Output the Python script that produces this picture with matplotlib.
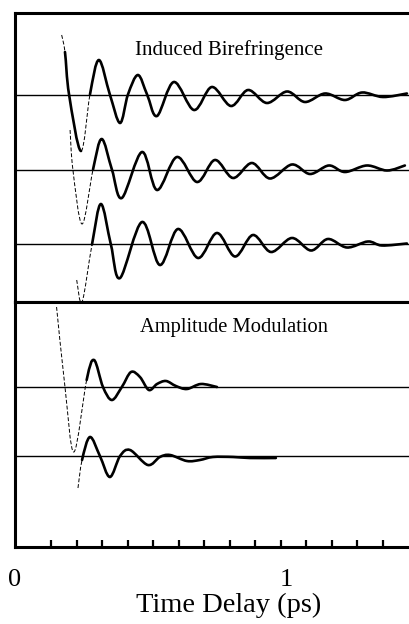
import numpy as np
import matplotlib
matplotlib.use("Agg")
import matplotlib.pyplot as plt
from matplotlib.path import Path
from matplotlib.patches import PathPatch

plt.rcParams["font.family"] = ["Liberation Serif", "DejaVu Serif"]

# -------------------------
# Data (time in ps, signal in a.u.)
# -------------------------

# Induced birefringence, three traces (top to bottom)
t_bir1 = [0.140, 0.153, 0.169, 0.216, 0.251, 0.286, 0.329, 0.369, 0.400, 0.439,
          0.475, 0.514, 0.580, 0.659, 0.729, 0.804, 0.871, 0.945, 1.024, 1.094,
          1.173, 1.251, 1.318, 1.400, 1.494]
s_bir1 = [5.95, 4.25, 0.0, -5.65, 0.0, 3.45, 0.0, -2.85, 0.0, 1.95,
          0.0, -2.15, 1.25, -1.55, 0.75, -1.15, 0.45, -0.85, 0.3, -0.75,
          0.1, -0.55, 0.2, -0.25, 0.1]

t_bir2 = [0.173, 0.184, 0.220, 0.263, 0.297, 0.337, 0.376, 0.455, 0.514, 0.592,
          0.671, 0.741, 0.812, 0.886, 0.957, 1.043, 1.114, 1.188, 1.251, 1.337,
          1.416, 1.486]
s_bir2 = [3.95, 0.0, -5.45, 0.0, 3.05, 0.0, -2.85, 1.75, -2.05, 1.25,
          -1.25, 0.95, -0.85, 0.65, -0.9, 0.5, -0.45, 0.4, -0.25, 0.4,
          -0.1, 0.4]

t_bir3 = [0.199, 0.220, 0.259, 0.294, 0.333, 0.369, 0.455, 0.525, 0.596, 0.675,
          0.749, 0.820, 0.890, 0.961, 1.043, 1.118, 1.184, 1.259, 1.341, 1.396,
          1.494]
s_bir3 = [-3.55, -5.75, 0.0, 4.05, 0.0, -3.35, 2.25, -2.05, 1.55, -1.35,
          1.15, -1.2, 0.95, -0.75, 0.65, -0.6, 0.55, -0.3, 0.3, -0.1,
          0.1]

# Amplitude modulation, two traces
t_am1 = [0.120, 0.153, 0.188, 0.238, 0.267, 0.302, 0.337, 0.376, 0.412, 0.447,
         0.482, 0.514, 0.549, 0.588, 0.631, 0.686, 0.749]
s_am1 = [8.0, 0.0, -6.5, 0.7, 2.7, 0.0, -1.3, 0.0, 1.5, 1.0,
         -0.3, 0.3, 0.6, 0.1, -0.2, 0.3, 0.0]

t_am2 = [0.204, 0.220, 0.251, 0.290, 0.329, 0.369, 0.408, 0.478, 0.525, 0.565,
         0.631, 0.682, 0.733, 0.812, 0.878, 0.980]
s_am2 = [-3.2, -0.4, 1.9, 0.0, -2.1, 0.0, 0.6, -0.9, -0.1, 0.1,
         -0.5, -0.4, -0.1, -0.1, -0.2, -0.2]

tick_pos = [0.1, 0.2, 0.3, 0.4, 0.5, 0.6, 0.7, 0.8, 0.9, 1.0, 1.1, 1.2, 1.3, 1.4]


# -------------------------
# Helpers
# -------------------------

def bezier_pieces(t, s):
    # Catmull-Rom style cubic pieces through the read points
    pts = np.column_stack([t, s])
    n = len(pts)
    pieces = []
    for i in range(n - 1):
        p0 = pts[max(i - 1, 0)]
        p1 = pts[i]
        p2 = pts[i + 1]
        p3 = pts[min(i + 2, n - 1)]
        c1 = p1 + (p2 - p0) / 6.0
        c2 = p2 - (p3 - p1) / 6.0
        pieces.append((p1, c1, c2, p2))
    return pieces


def draw_trace(ax, t, s, offset, segs):
    pieces = bezier_pieces(np.array(t), np.array(s) + offset)
    for a, b, kind in segs:
        b = len(pieces) if b is None else b
        verts = [pieces[a][0]]
        codes = [Path.MOVETO]
        for p1, c1, c2, p2 in pieces[a:b]:
            verts += [c1, c2, p2]
            codes += [Path.CURVE4] * 3
        if kind == "thin":
            patch = PathPatch(Path(verts, codes), fill=False, color="black",
                              lw=0.7, linestyle=(0, (4, 2)))
        else:
            patch = PathPatch(Path(verts, codes), fill=False, color="black",
                              lw=1.9, joinstyle="round", capstyle="round")
        ax.add_patch(patch)


def style_frame(ax):
    for side in ["left", "top", "bottom"]:
        ax.spines[side].set_linewidth(2.2)
    ax.spines["right"].set_visible(False)
    ax.set_yticks([])
    ax.set_xlim(-0.043, 1.561)


# -------------------------
# Figure
# -------------------------

fig = plt.figure(figsize=(4.09, 6.24), dpi=100)
W, H = 409.0, 624.0

ax1 = fig.add_axes([15 / W, (H - 302) / H, 1.0, 289 / H])
ax2 = fig.add_axes([15 / W, (H - 547) / H, 1.0, 245 / H])

# top panel
style_frame(ax1)
ax1.set_ylim(-20.75, 8.15)
ax1.set_xticks([])
for off in [0.0, -7.5, -15.0]:
    ax1.axhline(off, color="black", lw=1.0)
draw_trace(ax1, t_bir1, s_bir1, 0.0,
           [(0, 1, "thin"), (1, 3, "thick"), (3, 4, "thin"), (4, None, "thick")])
draw_trace(ax1, t_bir2, s_bir2, -7.5, [(0, 3, "thin"), (3, None, "thick")])
draw_trace(ax1, t_bir3, s_bir3, -15.0, [(0, 2, "thin"), (2, None, "thick")])
ax1.text(0.795, 4.45, "Induced Birefringence", ha="center", va="center",
         fontsize=15)

# bottom panel
style_frame(ax2)
ax2.set_ylim(-16.0, 8.5)
for off in [0.0, -6.9]:
    ax2.axhline(off, color="black", lw=1.0)
draw_trace(ax2, t_am1, s_am1, 0.0, [(0, 3, "thin"), (3, None, "thick")])
draw_trace(ax2, t_am2, s_am2, -6.9, [(0, 1, "thin"), (1, None, "thick")])
ax2.text(0.816, 6.0, "Amplitude Modulation", ha="center", va="center",
         fontsize=14.8)

ax2.set_xticks(tick_pos)
ax2.tick_params(axis="x", direction="in", length=5, width=1.6,
                labelbottom=False)

# axis labels
ax2.text(-0.043, -0.135, "0", transform=ax2.get_xaxis_transform(),
         ha="center", va="center", fontsize=19)
ax2.text(1.02, -0.135, "1", transform=ax2.get_xaxis_transform(),
         ha="center", va="center", fontsize=19)
fig.text(229 / W, 1 - 605 / H, "Time Delay (ps)", ha="center", va="center",
         fontsize=20.5)

fig.savefig("out.png", dpi=100)
